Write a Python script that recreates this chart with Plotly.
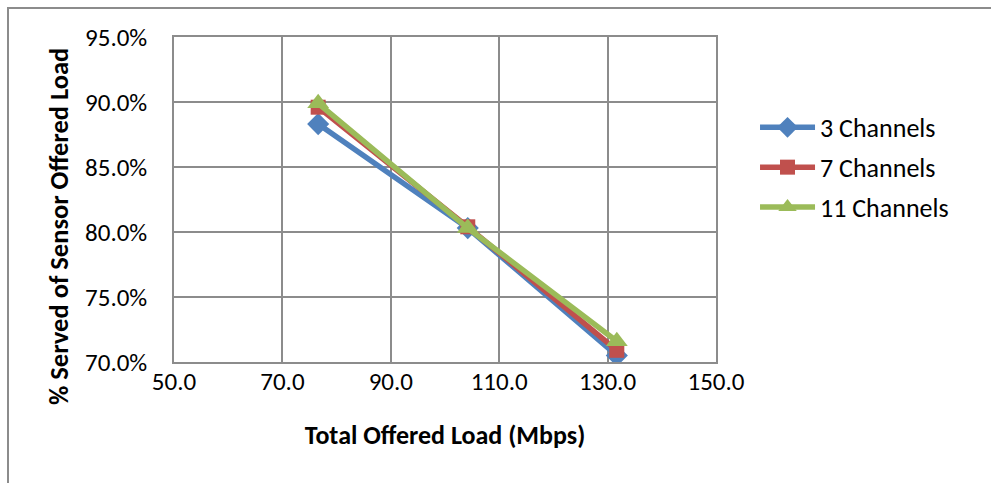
import plotly.graph_objects as go

# Offered load (Mbps) and the share served, per channel count
offered_load = [76.6, 104.2, 131.7]
served_3ch = [88.3, 80.3, 70.5]
served_7ch = [89.6, 80.4, 70.9]
served_11ch = [89.9, 80.3, 71.6]

y_ticks = [70, 75, 80, 85, 90, 95]
y_tick_labels = ["70.0%", "75.0%", "80.0%", "85.0%", "90.0%", "95.0%"]

series = [
    ("3 Channels", served_3ch, "#4F81BD", "diamond", 17),
    ("7 Channels", served_7ch, "#C0504D", "square", 15),
    ("11 Channels", served_11ch, "#9BBB59", "triangle-up", 19),
]

FONT = "Carlito, Calibri, 'Open Sans', sans-serif"

fig = go.Figure()
for name, vals, color, symbol, size in series:
    fig.add_trace(go.Scatter(
        x=offered_load, y=vals, name=name, mode="lines+markers",
        legendgroup=name,
        line=dict(color=color, width=5.5),
        marker=dict(symbol=symbol, size=size, color=color),
    ))

grid = "#8c8c8c"
# plot area spans x 174..716 px and y 37..362 px; helpers for paper coords
px_x = lambda p: (p - 174) / 542
px_y = lambda p: (362 - p) / 325

fig.update_layout(
    width=991, height=483,
    margin=dict(l=174, r=275, t=37, b=121),
    paper_bgcolor="white", plot_bgcolor="white",
    font=dict(family=FONT, size=26, color="black"),
    showlegend=True,
    legend=dict(x=1.072, y=0.794, xanchor="left", yanchor="top",
                font=dict(size=26), itemwidth=55, tracegroupgap=3,
                bgcolor="rgba(0,0,0,0)"),
    xaxis=dict(
        range=[50, 150], tick0=50, dtick=20, tickformat=".1f",
        showgrid=True, gridcolor=grid, gridwidth=1.5,
        showline=True, linecolor=grid, linewidth=1.5, mirror=True,
        ticks="", zeroline=False, ticklabelstandoff=-4,
        tickfont=dict(size=25),
        title=dict(text="<b>Total Offered Load (Mbps)</b>", font=dict(size=26), standoff=30),
    ),
    yaxis=dict(
        range=[70, 95],
        tickvals=y_ticks, ticktext=y_tick_labels,
        showgrid=True, gridcolor=grid, gridwidth=1.5,
        showline=True, linecolor=grid, linewidth=1.5, mirror=True,
        ticks="", zeroline=False, ticklabelstandoff=20,
        tickfont=dict(size=25),
    ),
    annotations=[dict(
        text="<b>% Served of Sensor Offered Load</b>",
        xref="paper", yref="paper", x=px_x(59), y=px_y(227),
        xanchor="center", yanchor="middle", textangle=-90,
        showarrow=False, font=dict(size=26.5),
    )],
    shapes=[dict(
        type="rect", xref="paper", yref="paper",
        x0=px_x(8), x1=px_x(1000), y0=px_y(500), y1=px_y(8),
        line=dict(color="#8c8c8c", width=2), fillcolor="rgba(0,0,0,0)",
        layer="below",
    )],
)

fig.write_html("out.html")
